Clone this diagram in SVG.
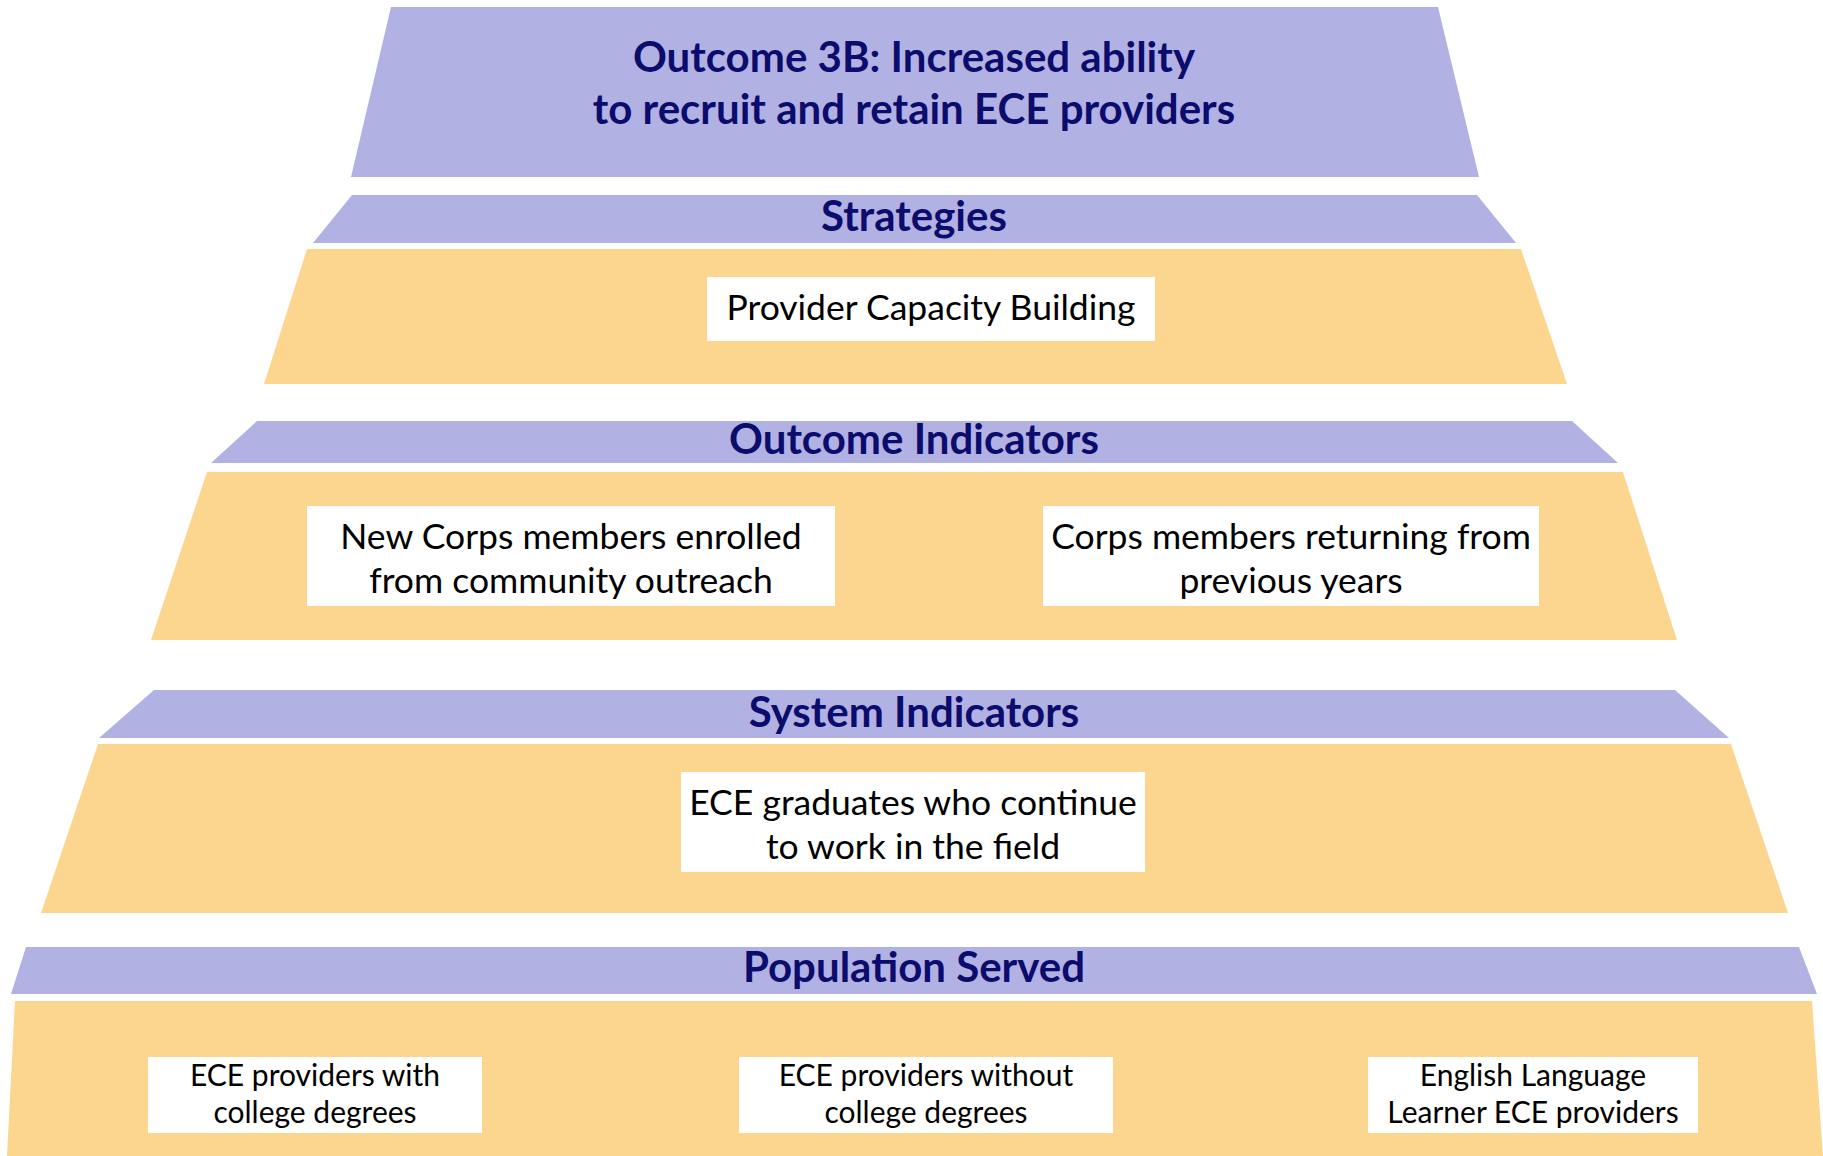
<svg xmlns="http://www.w3.org/2000/svg" width="1823" height="1156" viewBox="0 0 1823 1156">
<style>
.band{fill:#b1b1e4}
.tier{fill:#fcd68e}
.box{fill:#ffffff}
.hd{font-family:Lato,"Open Sans","Liberation Sans",sans-serif;font-weight:700;font-size:42px;fill:#0c0c6c;text-anchor:middle}
.tx{font-family:Lato,"Open Sans","Liberation Sans",sans-serif;font-size:35.5px;fill:#000;text-anchor:middle}
.sm{font-family:Lato,"Open Sans","Liberation Sans",sans-serif;font-size:30px;fill:#000;text-anchor:middle}
</style>
<rect width="1823" height="1156" fill="#fff"/>
<g id="outcome">
<polygon class="band" points="391,7 1438,7 1479,177 351,177"/>
<text class="hd" x="914" y="72">Outcome 3B: Increased ability</text>
<text class="hd" x="914" y="124">to recruit and retain ECE providers</text>
</g>
<g id="strategies">
<polygon class="band" points="352,195 1477,195 1516,243 313,243"/>
<text class="hd" x="914" y="231">Strategies</text>
<polygon class="tier" points="307,249 1521,249 1567,384 264,384"/>
</g>
<g id="provider-capacity">
<rect class="box" x="707" y="277" width="448" height="64"/>
<text class="tx" x="931" y="320">Provider Capacity Building</text>
</g>
<g id="outcome-indicators">
<polygon class="band" points="257,421 1572,421 1618,463 211,463"/>
<text class="hd" x="914" y="454">Outcome Indicators</text>
<polygon class="tier" points="207,472 1623,472 1677,640 151,640"/>
</g>
<g id="new-corps">
<rect class="box" x="307" y="506" width="528" height="100"/>
<text class="tx" x="571" y="549">New Corps members enrolled</text>
<text class="tx" x="571" y="593">from community outreach</text>
</g>
<g id="returning-corps">
<rect class="box" x="1043" y="506" width="496" height="100"/>
<text class="tx" x="1291" y="549">Corps members returning from</text>
<text class="tx" x="1291" y="593">previous years</text>
</g>
<g id="system-indicators">
<polygon class="band" points="154,690 1675,690 1729,738 99,738"/>
<text class="hd" x="914" y="727">System Indicators</text>
<polygon class="tier" points="98,744 1731,744 1788,913 41,913"/>
</g>
<g id="ece-graduates">
<rect class="box" x="681" y="772" width="464" height="100"/>
<text class="tx" x="913" y="815">ECE graduates who continue</text>
<text class="tx" x="913" y="859">to work in the field</text>
</g>
<g id="population-served">
<polygon class="band" points="26,947 1799,947 1817,994 11,994"/>
<text class="hd" x="914" y="982">Population Served</text>
<polygon class="tier" points="15,1001 1812,1001 1823,1156 7,1156"/>
</g>
<g id="with-degrees">
<rect class="box" x="148" y="1057" width="334" height="76"/>
<text class="sm" x="315" y="1086">ECE providers with</text>
<text class="sm" x="315" y="1123">college degrees</text>
</g>
<g id="without-degrees">
<rect class="box" x="739" y="1057" width="374" height="76"/>
<text class="sm" x="926" y="1086">ECE providers without</text>
<text class="sm" x="926" y="1123">college degrees</text>
</g>
<g id="ell-providers">
<rect class="box" x="1368" y="1057" width="330" height="76"/>
<text class="sm" x="1533" y="1086">English Language</text>
<text class="sm" x="1533" y="1123">Learner ECE providers</text>
</g>
<g id="connectors"></g>
</svg>
